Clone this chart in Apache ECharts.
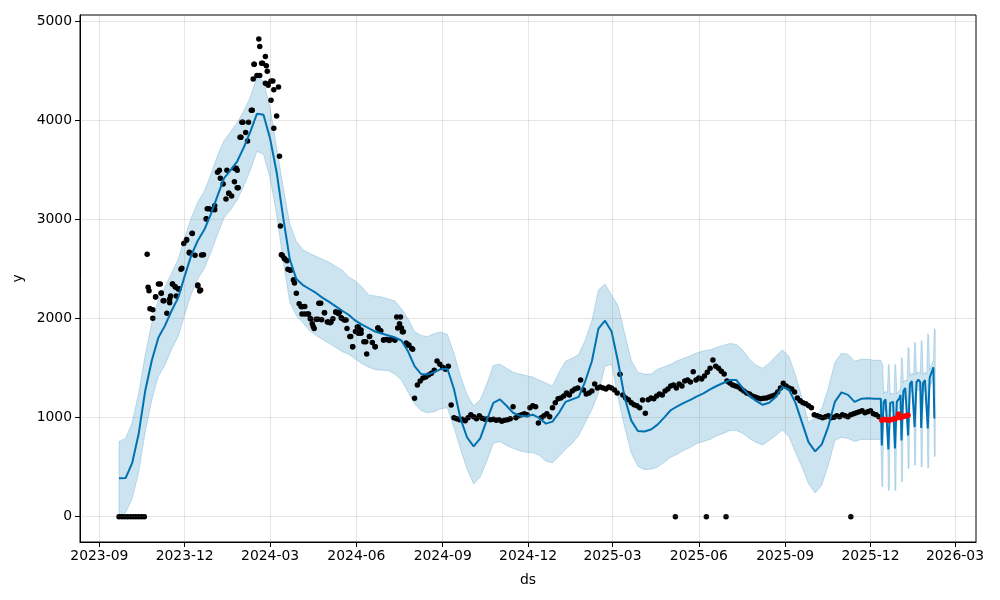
<!DOCTYPE html>
<html><head><meta charset="utf-8">
<script src="https://cdn.jsdelivr.net/npm/echarts@6/dist/echarts.min.js"></script>
<style>html,body{margin:0;padding:0;background:#fff}#c{width:1000px;height:600px}</style>
</head><body><div id="c"></div>
<script>
// ---- model fit (history, weekly nodes starting 2023-09-22) ----
const histStart = '2023-09-22';
const histStepDays = 7;
const histYhat = [388,390,540,840,1275,1580,1810,1930,2080,2210,
 2430,2640,2790,2900,3060,3240,3420,3500,3590,3730,
 3890,4070,4060,3820,3480,3020,2600,2400,2340,2300,
 2260,2210,2170,2125,2080,2037,1980,1940,1905,1870,
 1850,1830,1810,1780,1670,1520,1440,1435,1460,1490,
 1495,1290,990,800,710,790,975,1150,1185,1120,
 1050,1020,1015,1030,995,940,960,1050,1160,1185,
 1210,1370,1570,1900,1980,1870,1560,1200,970,865,
 860,880,930,1000,1075,1115,1150,1180,1215,1245,
 1285,1320,1350,1380,1380,1295,1220,1170,1130,1150,
 1210,1310,1285,1150,950,750,660,730,910,1160,
 1255,1230,1160,1190,1195,1190,1190];
const histUpper = [760,790,950,1250,1640,1960,2190,2320,2460,2600,
 2820,3020,3180,3290,3460,3650,3800,3890,3980,4100,
 4240,4440,4400,4130,3730,3330,2960,2780,2700,2660,
 2630,2600,2570,2530,2490,2420,2380,2320,2240,2230,
 2220,2200,2180,2100,2000,1870,1830,1820,1850,1865,
 1840,1650,1420,1230,1120,1180,1340,1530,1540,1500,
 1460,1440,1425,1410,1380,1350,1320,1460,1570,1600,
 1640,1785,1980,2290,2350,2240,2130,1850,1580,1460,
 1440,1440,1490,1515,1540,1575,1600,1625,1655,1675,
 1685,1710,1730,1750,1740,1680,1590,1530,1500,1550,
 1620,1685,1620,1430,1200,950,1000,1090,1300,1560,
 1650,1640,1570,1590,1590,1580,1580];
const histLower = [10,40,180,450,860,1180,1420,1530,1690,1820,
 2040,2250,2400,2510,2670,2850,3020,3100,3200,3340,
 3500,3690,3660,3420,3050,2580,2170,2030,1960,1880,
 1830,1790,1750,1710,1667,1640,1590,1545,1510,1485,
 1480,1475,1440,1380,1260,1140,1070,1050,1060,1090,
 1100,900,680,480,330,400,560,740,760,720,
 690,665,650,645,620,560,545,610,680,740,
 820,950,1080,1250,1520,1540,1200,900,640,510,
 475,480,500,550,600,630,670,700,740,760,
 780,815,840,870,870,840,790,750,724,770,
 820,876,808,650,500,330,240,320,520,770,
 800,790,760,780,780,780,780];

// ---- forecast (daily from 2025-12-13) ----
const fcStart = '2025-12-13';
const fcYhat = [720,700,1160,1180,1185,1180,1170,
 680,670,1150,1165,1170,1160,1150,
 690,680,1160,1175,1180,1200,1230,
 770,760,1270,1290,1300,1300,1290,
 820,810,1340,1360,1370,1365,1350,
 905,900,1360,1380,1385,1375,1360,
 895,890,1350,1370,1380,1375,1360,
 890,895,1400,1430,1450,1480,1510,
 1000,1000];
const fcUpper = [1556,1530,1240,1260,1265,1260,1250,
 1540,1520,1230,1245,1250,1240,1230,
 1540,1525,1240,1255,1260,1280,1310,
 1608,1590,1350,1370,1380,1380,1370,
 1711,1690,1420,1440,1450,1445,1430,
 1763,1745,1440,1460,1465,1455,1440,
 1780,1760,1430,1450,1460,1455,1440,
 1849,1830,1480,1510,1530,1560,1590,
 1901,1880];
const fcLower = [313,300,1060,1080,1085,1080,1070,
 263,270,1050,1065,1070,1060,1050,
 263,275,1060,1075,1080,1100,1130,
 347,360,1170,1190,1200,1200,1190,
 483,490,1240,1260,1270,1265,1250,
 517,525,1260,1280,1285,1275,1260,
 500,510,1250,1270,1280,1275,1260,
 490,500,1300,1330,1350,1380,1410,
 603,620];

// ---- observed data (every 3rd day from 2023-09-22) ----
const obsStart = '2023-09-22';
const obsStepDays = 3;
const obsValues = [0,0,0,0,0,0,0,0,0,0,
 2650,2100,2090,2220,2350,2260,2180,2054,2200,2350,
 2320,2300,2500,2760,2800,2670,2860,2640,2330,2290,
 2645,3010,3110,3100,3140,3480,3420,3360,3210,3268,
 3240,3520,3323,3832,3985,3882,3985,4105,4570,4458,
 4751,4580,4650,4370,4400,3923,4047,3640,2640,2600,
 2500,2490,2390,2256,2150,2120,2047,2047,2000,1920,
 1994,2156,1990,2061,1966,1960,2000,2067,2050,2007,
 1987,1900,1820,1717,1870,1916,1852,1768,1643,1820,
 1760,1717,1905,1879,1785,1790,1780,1800,1785,1905,
 2017,1869,1751,1735,1700,1196,1330,1370,1400,1410,
 1430,1450,1480,1573,1540,1510,1490,1520,1128,1000,
 990,980,985,970,1000,1030,1010,990,1020,995,
 985,990,980,985,975,980,965,975,980,990,
 1111,1000,1020,1030,1040,1030,1100,1120,1110,946,
 1000,1020,1040,1010,1100,1150,1190,1200,1220,1250,
 1230,1270,1290,1300,1381,1280,1240,1250,1270,1340,
 1300,1310,1300,1290,1310,1300,1280,1250,1438,1230,
 1200,1180,1150,1130,1120,1100,1178,1044,1180,1200,
 1190,1220,1240,1230,1270,1290,1320,1330,1300,1340,
 1320,1370,1380,1360,1465,1380,1400,1390,1420,1460,
 1500,1583,1520,1500,1470,1440,1370,1350,1330,1320,
 1310,1290,1270,1250,1240,1220,1210,1200,1190,1195,
 1200,1210,1220,1230,1260,1300,1347,1320,1300,1290,
 1260,1200,1170,1150,1140,1120,1100,1030,1020,1010,
 1000,1010,1020,1000,1005,1020,1010,1030,1020,1010,
 1030,1040,1050,1060,1070,1050,1060,1070,1040,1030,
 1010];
const obsExtra = [
 ['2023-10-23',2317],['2023-10-24',2283],['2023-10-28',2004],['2023-10-31',2222],
 ['2023-11-05',2350],['2023-11-06',2257],['2023-11-08',2182],['2023-11-15',2162],
 ['2023-11-16',2229],['2023-11-18',2350],['2023-11-21',2323],['2023-11-22',2229],
 ['2023-11-25',2303],['2023-11-28',2510],['2023-12-03',2793],['2023-12-06',2663],
 ['2023-12-09',2863],['2023-12-15',2340],['2023-12-17',2280],['2023-12-19',2643],
 ['2023-12-24',3007],['2023-12-25',3110],['2024-01-02',3100],['2024-01-07',3500],
 ['2024-01-15',3500],['2024-01-17',3268],['2024-01-23',3383],['2024-01-25',3520],
 ['2024-01-26',3500],['2024-01-27',3323],['2024-01-30',3832],['2024-01-31',3985],
 ['2024-02-06',3795],['2024-02-11',4105],['2024-02-12',4421],['2024-02-13',4570],
 ['2024-02-18',4825],['2024-02-19',4458],['2024-02-21',4580],['2024-02-25',4378],
 ['2024-02-26',4555],['2024-02-27',4499],['2024-02-28',4358],['2024-03-02',4206],
 ['2024-03-04',4400],['2024-03-05',4313],['2024-03-10',4340],['2024-03-12',2936],
 ['2024-03-13',2647],['2024-03-16',2610],['2024-03-19',2586],['2024-03-22',2492],
 ['2024-03-26',2390],['2024-03-27',2360],
 ['2024-04-03',2123],['2024-04-04',2047],['2024-04-07',2123],['2024-04-11',2047],
 ['2024-04-13',2000],['2024-04-15',1950],['2024-04-17',1900],['2024-04-21',1994],
 ['2024-04-24',2156],['2024-04-28',2061],['2024-05-02',1966],['2024-05-05',1966],
 ['2024-05-10',2067],['2024-05-12',2060],['2024-05-14',2067],['2024-05-16',2007],
 ['2024-05-21',1987],['2024-05-26',1820],['2024-05-28',1717],['2024-06-02',1916],
 ['2024-06-03',1852],['2024-06-06',1886],['2024-06-11',1768],['2024-06-15',1820],
 ['2024-06-21',1717],['2024-06-24',1905],['2024-06-26',1879],['2024-06-30',1785],
 ['2024-07-06',1785],['2024-07-12',1785],['2024-07-14',2017],['2024-07-17',1950],
 ['2024-07-19',1905],['2024-07-20',1869],['2024-07-24',1751],['2024-07-26',1735],
 ['2024-07-31',1692],
 ['2025-05-07',0],['2025-06-09',0],['2025-06-30',0],['2025-11-10',0]];

// ---- held-out actuals (red) ----
const testPoints = [['2025-12-13',975],['2025-12-15',985],['2025-12-17',978],['2025-12-19',980],
 ['2025-12-21',975],['2025-12-23',982],['2025-12-25',985],['2025-12-27',990],
 ['2025-12-29',1000],['2025-12-31',1037],['2026-01-02',1000],['2026-01-04',1010],
 ['2026-01-06',1015],['2026-01-08',1020],['2026-01-10',1025]];

const xTickLabels = ['2023-09-01','2023-12-01','2024-03-01','2024-06-01','2024-09-01','2024-12-01','2025-03-01','2025-06-01','2025-09-01','2025-12-01','2026-03-01'];
const yTickLabels = [0,1000,2000,3000,4000,5000];

// ---- build ----
const DAY = 86400000;
function ts(s){const p=s.split('-').map(Number);return Date.UTC(p[0],p[1]-1,p[2]);}
const modelX = histYhat.map((_,i)=>ts(histStart)+i*histStepDays*DAY)
  .concat(fcYhat.map((_,i)=>ts(fcStart)+i*DAY));
const yhatAll = histYhat.concat(fcYhat);
const upAll = histUpper.concat(fcUpper);
const loAll = histLower.concat(fcLower);
const obs = obsValues.map((v,i)=>[ts(obsStart)+i*obsStepDays*DAY, v])
  .concat(obsExtra.map(d=>[ts(d[0]), d[1]]));
const test = testPoints.map(d=>[ts(d[0]), d[1]]);
const xTicks = xTickLabels.map(ts);
const gridCol = 'rgba(128,128,128,0.2)';
const font = 'DejaVu Sans';
const bandCol = 'rgba(0,114,178,0.2)';

const chart = echarts.init(document.getElementById('c'), null, {renderer:'canvas'});
chart.setOption({
  animation:false,
  backgroundColor:'#fff',
  grid:{left:80,right:24,top:15,bottom:58,show:true,borderColor:'#000',borderWidth:1,backgroundColor:'transparent'},
  xAxis:{type:'value', min: ts('2023-08-11')+10*3600000, max: ts('2026-03-23')+10*3600000,
    axisLine:{show:true,onZero:false,lineStyle:{color:'#000',width:1}},
    axisTick:{show:true,customValues:xTicks,length:5,lineStyle:{color:'#000'}},
    axisLabel:{customValues:xTicks,color:'#000',fontFamily:font,fontSize:13.9,margin:7,
      formatter:v=>{const d=new Date(v);return d.getUTCFullYear()+'-'+String(d.getUTCMonth()+1).padStart(2,'0');}},
    splitLine:{show:false},
    name:'ds',nameLocation:'middle',nameGap:31,nameTextStyle:{color:'#000',fontFamily:font,fontSize:13.9}},
  yAxis:{type:'value',min:-256,max:5068,
    axisLine:{show:true,onZero:false,lineStyle:{color:'#000',width:1}},
    axisTick:{show:true,customValues:yTickLabels,length:5,lineStyle:{color:'#000'}},
    axisLabel:{customValues:yTickLabels,color:'#000',fontFamily:font,fontSize:13.9,margin:8,formatter:v=>String(v)},
    splitLine:{show:false},
    name:'y',nameLocation:'middle',nameGap:53,nameRotate:90,nameTextStyle:{color:'#000',fontFamily:font,fontSize:13.9}},
  series:[
    {type:'custom',silent:true,z:1,
      data:modelX.map((x,i)=>[x,upAll[i],loAll[i]]),
      encode:{x:0,y:[1,2]},
      renderItem:(params,api)=>{
        if(params.dataIndex!==0) return null;
        const pts=[];
        for(let i=0;i<modelX.length;i++) pts.push(api.coord([modelX[i],upAll[i]]));
        for(let i=modelX.length-1;i>=0;i--) pts.push(api.coord([modelX[i],loAll[i]]));
        return {type:'polygon',shape:{points:pts},style:{fill:bandCol,stroke:bandCol,lineWidth:1}};
      }},
    {type:'line',data:[],silent:true,z:2,
      markLine:{silent:true,symbol:'none',label:{show:false},animation:false,
        lineStyle:{color:gridCol,type:'solid',width:1},
        data:xTicks.map(t=>({xAxis:t})).concat(yTickLabels.map(v=>({yAxis:v})))}},
    {type:'scatter',data:obs,symbolSize:5.5,itemStyle:{color:'#000',opacity:1},z:3},
    {type:'line',data:modelX.map((x,i)=>[x,yhatAll[i]]),symbol:'none',lineStyle:{color:'#0072B2',width:2},z:4},
    {type:'scatter',data:test,symbolSize:5.5,itemStyle:{color:'#ff0000',opacity:1},z:5}
  ]
});
</script>
</body></html>
